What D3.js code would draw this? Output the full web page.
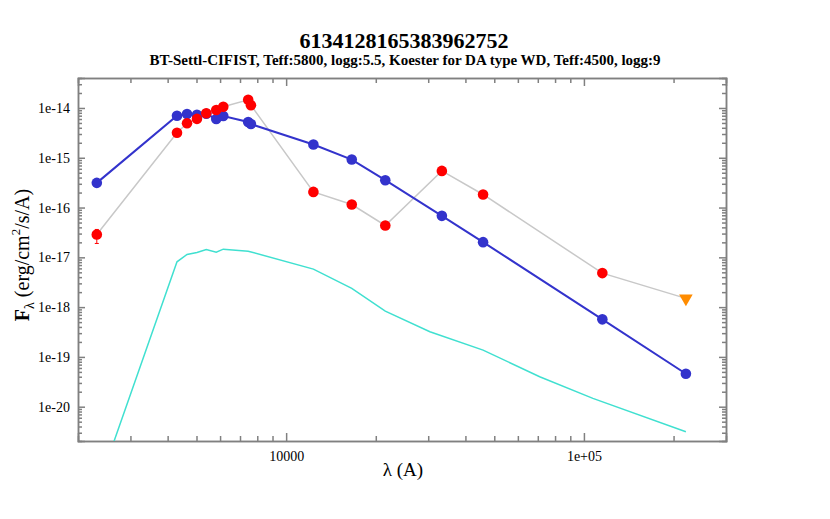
<!DOCTYPE html>
<html>
<head>
<meta charset="utf-8">
<title>SED 6134128165383962752</title>
<script src="https://d3js.org/d3.v7.min.js"></script>
<style>
  body { margin: 0; background: #fff; }
  svg, svg text { font-family: "Liberation Serif", serif; }
  .axis path, .axis line { stroke: #808080; stroke-width: 1.5px; }
</style>
</head>
<body>
<div id="chart"></div>
<script>
const SERIF = "Liberation Serif, serif";

// photometric wavelengths (A)
const wave = [2313, 4300, 4647, 5018, 5393, 5825, 6150, 7457, 7616,
              12346, 16610, 21525, 33340, 45850, 115300, 220000];
// observed fluxes (red), last band is an upper limit
const obsFlux = [2.88e-17, 3.18e-15, 4.93e-15, 6.04e-15, 7.83e-15, 9.12e-15, 1.057e-14,
                 1.46e-14, 1.14e-14, 2.06e-16, 1.15e-16, 4.37e-17, 5.44e-16, 1.83e-16,
                 4.82e-18, 1.50e-18];
const upperLimit = [false, false, false, false, false, false, false, false, false,
                    false, false, false, false, false, false, true];
const obsErrLo = [1.9e-17];
const obsErrHi = [3.63e-17];
// model fluxes at the same bands (blue)
const modelFlux = [3.13e-16, 6.97e-15, 7.58e-15, 7.31e-15, 7.65e-15, 5.99e-15, 6.91e-15,
                   5.24e-15, 4.75e-15, 1.85e-15, 9.21e-16, 3.54e-16, 6.81e-17, 2.02e-17,
                   5.68e-19, 4.59e-20];
// white dwarf model spectrum (cyan)
const wdWave = [2380, 4300, 4647, 5018, 5393, 5825, 6150, 7457, 12346, 16610,
                21525, 30390, 45850, 71030, 107200, 220000];
const wdFlux = [3.4e-22, 8.13e-18, 1.14e-17, 1.25e-17, 1.43e-17, 1.27e-17, 1.46e-17,
                1.33e-17, 5.79e-18, 2.38e-18, 8.32e-19, 3.20e-19, 1.37e-19, 4.00e-20,
                1.47e-20, 3.15e-21];

const xMajor = [10000, 100000];
const xLabels = ["10000", "1e+05"];
const yMajor = [1e-20, 1e-19, 1e-18, 1e-17, 1e-16, 1e-15, 1e-14];
const yLabels = ["1e-20", "1e-19", "1e-18", "1e-17", "1e-16", "1e-15", "1e-14"];

const W = 830, H = 519;
const margin = { top: 78, right: 104, bottom: 78, left: 78 };
const width = W - margin.left - margin.right,
      height = H - margin.top - margin.bottom;

const svg = d3.select("#chart").append("svg")
    .attr("width", W).attr("height", H)
    .attr("font-family", SERIF);

const x = d3.scaleLog().domain([2000, 300000]).range([0, width]);
const y = d3.scaleLog().domain([Math.pow(10, -20.689), Math.pow(10, -13.398)]).range([height, 0]);

const g = svg.append("g")
    .attr("transform", `translate(${margin.left},${margin.top})`);

g.append("clipPath").attr("id", "clip")
  .append("rect").attr("width", width).attr("height", height);

// minor tick values
const xMinor = [];
for (let e = 3; e <= 5; e++) for (let m = 2; m <= 9; m++) {
  const v = m * Math.pow(10, e);
  if (v > 2000 && v < 300000) xMinor.push(v);
}
const yMinor = [];
for (let e = -21; e <= -14; e++) for (let m = 2; m <= 9; m++) {
  const v = m * Math.pow(10, e);
  if (v > y.domain()[0] && v < y.domain()[1]) yMinor.push(v);
}

// axes: ticks point into the plot
function axisGroup(t) {
  return g.append("g").attr("class", "axis").attr("transform", t || null);
}
axisGroup(`translate(0,${height})`)
  .call(d3.axisBottom(x).tickValues(xMajor).tickFormat((d, i) => xLabels[i])
        .tickSize(-8).tickPadding(10));
axisGroup(`translate(0,${height})`)
  .call(d3.axisBottom(x).tickValues(xMinor).tickFormat("").tickSize(-5));
axisGroup()
  .call(d3.axisTop(x).tickValues(xMajor).tickFormat("").tickSize(-8));
axisGroup()
  .call(d3.axisTop(x).tickValues(xMinor).tickFormat("").tickSize(-5));
axisGroup()
  .call(d3.axisLeft(y).tickValues(yMajor).tickFormat((d, i) => yLabels[i])
        .tickSize(-7).tickPadding(8));
axisGroup()
  .call(d3.axisLeft(y).tickValues(yMinor).tickFormat("").tickSize(-4));
axisGroup(`translate(${width},0)`)
  .call(d3.axisRight(y).tickValues(yMajor).tickFormat("").tickSize(-7));
axisGroup(`translate(${width},0)`)
  .call(d3.axisRight(y).tickValues(yMinor).tickFormat("").tickSize(-4));

g.selectAll(".axis").attr("font-family", SERIF).attr("font-size", 14);
g.selectAll(".axis text").attr("fill", "#000");

const plot = g.append("g").attr("clip-path", "url(#clip)");
const line = d3.line().x(d => x(d[0])).y(d => y(d[1]));

// white dwarf spectrum
plot.append("path")
  .datum(wdWave.map((w, i) => [w, wdFlux[i]]))
  .attr("d", line).attr("fill", "none")
  .attr("stroke", "#40E0D0").attr("stroke-width", 1.5);

// observed connecting line
plot.append("path")
  .datum(wave.map((w, i) => [w, obsFlux[i]]))
  .attr("d", line).attr("fill", "none")
  .attr("stroke", "#C8C8C8").attr("stroke-width", 1.5);

// model connecting line
plot.append("path")
  .datum(wave.map((w, i) => [w, modelFlux[i]]))
  .attr("d", line).attr("fill", "none")
  .attr("stroke", "#3333CC").attr("stroke-width", 2);

// error bar on first observed point
obsErrLo.forEach((lo, i) => {
  const cx = x(wave[i]);
  plot.append("line").attr("x1", cx).attr("x2", cx)
    .attr("y1", y(lo)).attr("y2", y(obsErrHi[i]))
    .attr("stroke", "#FF0000").attr("stroke-width", 1);
  [lo, obsErrHi[i]].forEach(v => plot.append("line")
    .attr("x1", cx - 2).attr("x2", cx + 2).attr("y1", y(v)).attr("y2", y(v))
    .attr("stroke", "#FF0000").attr("stroke-width", 1));
});

// model points
plot.selectAll(".mod").data(wave).enter().append("circle")
  .attr("class", "mod")
  .attr("cx", d => x(d)).attr("cy", (d, i) => y(modelFlux[i]))
  .attr("r", 5.3).attr("fill", "#3333CC");

// observed points
plot.selectAll(".obs").data(wave.filter((d, i) => !upperLimit[i])).enter().append("circle")
  .attr("class", "obs")
  .attr("cx", d => x(d)).attr("cy", d => y(obsFlux[wave.indexOf(d)]))
  .attr("r", 5.3).attr("fill", "#FF0000");

// upper limits
const tri = d3.symbol().type(d3.symbolTriangle).size(80);
wave.forEach((w, i) => {
  if (!upperLimit[i]) return;
  plot.append("path").attr("d", tri())
    .attr("transform", `translate(${x(w)},${y(obsFlux[i])}) rotate(180)`)
    .attr("fill", "#FF8C00");
});

// titles
svg.append("text").attr("x", margin.left + width / 2 + 2).attr("y", 48)
  .attr("text-anchor", "middle").attr("font-size", 22).attr("font-weight", "bold")
  .text("6134128165383962752");
svg.append("text").attr("x", margin.left + width / 2 + 3).attr("y", 65)
  .attr("text-anchor", "middle").attr("font-size", 15).attr("font-weight", "bold")
  .text("BT-Settl-CIFIST, Teff:5800, logg:5.5, Koester for DA type WD, Teff:4500, logg:9");

// axis labels
svg.append("text").attr("x", 403).attr("y", 476)
  .attr("text-anchor", "middle").attr("font-size", 19)
  .text("λ (A)");

const yl = svg.append("text")
  .attr("transform", "translate(29,255) rotate(-90)")
  .attr("text-anchor", "middle").attr("font-size", 20);
yl.append("tspan").attr("font-weight", "bold").text("F");
yl.append("tspan").attr("dy", 5).attr("font-size", 14).text("λ");
yl.append("tspan").attr("dy", -5).text(" (erg/cm");
yl.append("tspan").attr("dy", -9).attr("font-size", 13).text("2");
yl.append("tspan").attr("dy", 9).text("/s/A)");
</script>
</body>
</html>
